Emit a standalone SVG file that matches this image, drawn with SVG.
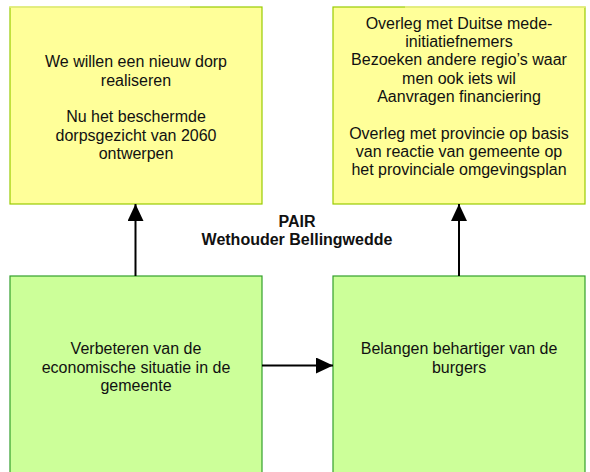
<svg xmlns="http://www.w3.org/2000/svg" width="590" height="472" viewBox="0 0 590 472">
<style>
.y{fill:#ffff99;stroke:#99cc00;stroke-width:1.2}
.g{fill:#ccff99;stroke:#33a02c;stroke-width:1.2}
.t{font-family:"Liberation Sans",Arial,sans-serif;font-size:16px;fill:#111;text-anchor:middle}
.b{font-weight:bold}
.c{stroke:#000;stroke-width:2;fill:none}
.pale{stroke:#eef28f;stroke-width:1.4}
</style>
<defs>
<marker id="ah" markerUnits="userSpaceOnUse" markerWidth="18" markerHeight="18" refX="17" refY="8" orient="auto">
<path d="M0,0 L17,8 L0,16 Z" fill="#000"/>
</marker>
</defs>
<rect width="590" height="472" fill="#fff"/>
<g id="node-top-left">
<rect class="y" x="10" y="7" width="252" height="197"/>
<line class="pale" x1="9.5" y1="7" x2="190" y2="7"/>
<text class="t" x="136" y="67">We willen een nieuw dorp</text>
<text class="t" x="136" y="85.5">realiseren</text>
<text class="t" x="136" y="122">Nu het beschermde</text>
<text class="t" x="136" y="140.5">dorpsgezicht van 2060</text>
<text class="t" x="136" y="159">ontwerpen</text>
</g>
<g id="node-top-right">
<rect class="y" x="333" y="7" width="252" height="197"/>
<line class="pale" x1="405" y1="7" x2="585.5" y2="7"/>
<text class="t" x="459" y="28.5">Overleg met Duitse mede-</text>
<text class="t" x="459" y="47">initiatiefnemers</text>
<text class="t" x="459" y="65">Bezoeken andere regio’s waar</text>
<text class="t" x="459" y="83.5">men ook iets wil</text>
<text class="t" x="459" y="102">Aanvragen financiering</text>
<text class="t" x="459" y="138.5">Overleg met provincie op basis</text>
<text class="t" x="459" y="157">van reactie van gemeente op</text>
<text class="t" x="459" y="175">het provinciale omgevingsplan</text>
</g>
<g id="node-bottom-left">
<rect class="g" x="10" y="276" width="252" height="210"/>
<text class="t" x="136" y="354">Verbeteren van de</text>
<text class="t" x="136" y="372.5">economische situatie in de</text>
<text class="t" x="136" y="391">gemeente</text>
</g>
<g id="node-bottom-right">
<rect class="g" x="333" y="276" width="252" height="210"/>
<text class="t" x="459" y="354">Belangen behartiger van de</text>
<text class="t" x="459" y="372.5">burgers</text>
</g>
<g id="label-title">
<text class="t b" x="297" y="226.5">PAIR</text>
<text class="t b" x="297" y="245">Wethouder Bellingwedde</text>
</g>
<g id="connectors">
<line class="c" x1="135.5" y1="276" x2="135.5" y2="204" marker-end="url(#ah)"/>
<line class="c" x1="459" y1="276" x2="459" y2="204" marker-end="url(#ah)"/>
<line class="c" x1="262" y1="365.5" x2="333" y2="365.5" marker-end="url(#ah)"/>
</g>
</svg>
